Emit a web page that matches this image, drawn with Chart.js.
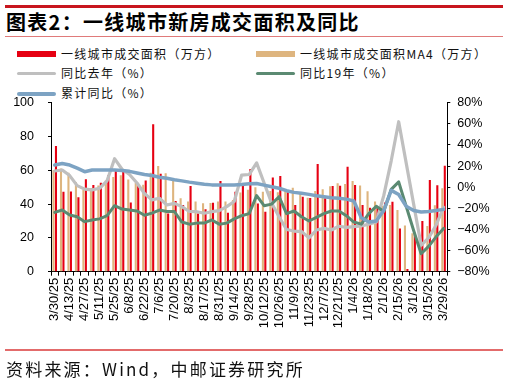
<!DOCTYPE html>
<html>
<head>
<meta charset="utf-8">
<script src="https://cdn.jsdelivr.net/npm/chart.js@4.4.1/dist/chart.umd.min.js"></script>
<style>
    body { margin: 0; width: 509px; height: 385px; background: #fff; position: relative; overflow: hidden; font-family: "Noto Sans CJK SC", sans-serif; color: #000; }
    #chart { position: absolute; left: 0; top: 0; }
    .rule { position: absolute; left: 5px; width: 498px; }
    .title { position: absolute; left: 6px; top: 12px; font-size: 20px; line-height: 20px; font-weight: 700; letter-spacing: 1.3px; white-space: nowrap; }
    .sw { position: absolute; width: 39px; }
    .lg { position: absolute; font-size: 12px; line-height: 12px; letter-spacing: 1.3px; white-space: nowrap; color: #111; }
    .src { position: absolute; left: 6px; top: 360px; font-size: 17px; line-height: 18px; letter-spacing: 2.2px; white-space: nowrap; color: #111; }
</style>
</head>
<body>
<div class="rule" style="top:5px;height:2.5px;background:#c8161e"></div>
<div class="title">图表2：一线城市新房成交面积及同比</div>
<div class="rule" style="top:35.5px;height:1.5px;background:#e07a7a"></div>

<div class="sw" style="left:17px;top:50.5px;height:6px;background:#e60012"></div>
<div class="lg" style="left:61px;top:48px">一线城市成交面积（万方）</div>
<div class="sw" style="left:256px;top:50.5px;height:6px;background:#deb57f"></div>
<div class="lg" style="left:300px;top:48px">一线城市成交面积MA4（万方）</div>
<div class="sw" style="left:17px;top:72px;height:3px;border-radius:2px;background:#bfbfbf"></div>
<div class="lg" style="left:61px;top:67px">同比去年（%）</div>
<div class="sw" style="left:256px;top:72px;height:3px;border-radius:2px;background:#5b8a72"></div>
<div class="lg" style="left:300px;top:67px">同比19年（%）</div>
<div class="sw" style="left:17px;top:92px;height:3.5px;border-radius:2px;background:#7da3c3"></div>
<div class="lg" style="left:61px;top:86.5px">累计同比（%）</div>

<canvas id="chart" width="509" height="385"></canvas>

<div class="rule" style="top:348.5px;height:2px;background:#e36b6b"></div>
<div class="src">资料来源：Wind，中邮证券研究所</div>

<script>
// 周度数据 3/30/25 - 3/29/26
const weeks = ['3/30/25', '4/6/25', '4/13/25', '4/20/25', '4/27/25', '5/4/25', '5/11/25', '5/18/25', '5/25/25',
    '6/1/25', '6/8/25', '6/15/25', '6/22/25', '6/29/25', '7/6/25', '7/13/25', '7/20/25', '7/27/25',
    '8/3/25', '8/10/25', '8/17/25', '8/24/25', '8/31/25', '9/7/25', '9/14/25', '9/21/25', '9/28/25',
    '10/5/25', '10/12/25', '10/19/25', '10/26/25', '11/2/25', '11/9/25', '11/16/25', '11/23/25', '11/30/25',
    '12/7/25', '12/14/25', '12/21/25', '12/28/25', '1/4/26', '1/11/26', '1/18/26', '1/25/26', '2/1/26',
    '2/8/26', '2/15/26', '2/22/26', '3/1/26', '3/8/26', '3/15/26', '3/22/26', '3/29/26'];

// 一线城市成交面积（万方）
const area = [74.4, 47.3, 47.5, 44, 54.7, 51.3, 52.7, 57, 59.6, 59, 41, 51, 54, 87.2, 58, 34.5, 41.8, 39.4,
    50.7, 34.5, 37, 40.8, 53.6, 34.9, 47.3, 51.3, 60.7, 40.4, 35.5, 55.8, 56.6, 47, 39.4, 44.4, 43.6, 63.7,
    43.4, 50.7, 50.9, 62.1, 51.3, 39.4, 37.9, 37.9, 41, 41.4, 25.6, 1.6, 22, 30, 54.2, 51.2, 62.7];

// 一线城市成交面积MA4（万方）
const areaMA4 = [60, 61, 58.5, 53, 48.5, 49.5, 51, 54, 56, 57, 54.5, 52.5, 51.5, 58.5, 62.5, 58.3, 54, 43.4,
    41.5, 41.6, 40.5, 40.7, 41.5, 41.6, 42.5, 46.8, 48.5, 50, 47.3, 47.8, 47, 48, 49.7, 46.3, 43.8, 47.8,
    48.8, 50.5, 52.3, 51.9, 53.7, 51, 47.6, 41.6, 39, 39.5, 36.5, 27.4, 22.7, 19.8, 27, 39.3, 49.4];

// 同比去年（%）
const yoyLastYear = [15.3, 16.3, 11, 1.5, -1.8, -2.5, -1, 6, 27, 17, 12, 4, -6, -12, -10.5, -16.8, -15.3, -18.4,
    -23, -23.2, -24.7, -23.2, -22.2, -18.4, -13.5, 11.5, 12, 23, 4, -15, -28, -40, -41.5, -42, -48, -40.5,
    -39, -40.5, -37, -38, -37.3, -36.7, -35, -33, -8, 25, 62, 23, -16, -55, -48, -36, -19];

// 同比19年（%）
const yoy2019 = [-23.8, -21.6, -26.3, -27.9, -32.6, -31, -30, -27, -17.5, -20.7, -21.6, -22.5, -26.5, -24.5,
    -21.6, -23, -23, -33, -35, -34, -34, -31, -35, -34, -30, -27, -25, -8, -17.5, -16, -9, -25, -22.5, -28,
    -32, -28.5, -25, -22.5, -22.5, -27, -33, -35, -25, -18, -23, -2, 5, -18, -41, -63, -56, -47, -39];

// 累计同比（%）
const yoyCumulative = [21, 22.5, 21, 18, 14.7, 16.3, 16.3, 16.3, 16.3, 15.8, 15, 13.5, 12, 11, 9.5, 8.4, 7, 6,
    4.8, 3.8, 2.8, 2.2, 2, 2, 2, 2.5, 3.3, 3.5, 2, 0.5, -1, -3.3, -4.9, -5.8, -6.8, -8, -9, -9.9, -10.5,
    -11.3, -13, -29, -33, -32, -22, -3, -7, -18, -22, -23.5, -23, -22, -21];

// 坐标轴刻度
const leftAxis = { min: 0, max: 100, step: 10 };
const rightAxis = { min: -80, max: 80, step: 20 };

Chart.defaults.font.family = '"Liberation Sans", Arial, sans-serif';
Chart.defaults.color = '#000';

const axisLine = { display: true, color: '#000', width: 1 };

const lineStyle = (color, width) => ({
    type: 'line',
    yAxisID: 'y1',
    borderColor: color,
    backgroundColor: color,
    borderWidth: width,
    pointRadius: 0,
    tension: 0,
    borderJoinStyle: 'round',
    borderCapStyle: 'round'
});

const ctx = document.getElementById('chart').getContext('2d');

new Chart(ctx, {
    type: 'bar',
    data: {
        labels: weeks,
        datasets: [
            Object.assign(lineStyle('#7da3c3', 3.5), { label: '累计同比（%）', data: yoyCumulative, order: 1 }),
            Object.assign(lineStyle('#5b8a72', 3), { label: '同比19年（%）', data: yoy2019, order: 2 }),
            Object.assign(lineStyle('#bfbfbf', 3.2), { label: '同比去年（%）', data: yoyLastYear, order: 3 }),
            {
                label: '一线城市成交面积MA4（万方）',
                data: areaMA4,
                backgroundColor: '#deb57f',
                yAxisID: 'y',
                order: 4,
                categoryPercentage: 0.66,
                barPercentage: 0.85
            },
            {
                label: '一线城市成交面积（万方）',
                data: area,
                backgroundColor: '#e60012',
                yAxisID: 'y',
                order: 5,
                categoryPercentage: 0.66,
                barPercentage: 0.85
            }
        ]
    },
    options: {
        responsive: false,
        animation: false,
        events: [],
        layout: { padding: { top: 102.7, left: 0, right: 0, bottom: 0 } },
        plugins: {
            legend: { display: false },
            tooltip: { enabled: false }
        },
        scales: {
            x: {
                offset: true,
                border: axisLine,
                grid: { display: true, offset: true, drawOnChartArea: false, drawTicks: true, tickLength: 4, color: '#000' },
                ticks: {
                    autoSkip: false,
                    maxRotation: 90,
                    minRotation: 90,
                    padding: 2,
                    font: { size: 13 },
                    callback: function (value, index) {
                        return index % 2 === 0 ? weeks[index] : '';
                    }
                },
                afterFit: (scale) => { scale.height = 385 - 271.7; }
            },
            y: {
                position: 'left',
                min: leftAxis.min,
                max: leftAxis.max,
                border: axisLine,
                grid: { display: true, drawOnChartArea: false, drawTicks: true, tickLength: 3, color: '#000' },
                ticks: { stepSize: leftAxis.step, padding: 14, font: { size: 12.5 } },
                afterFit: (scale) => { scale.width = 51; }
            },
            y1: {
                position: 'right',
                min: rightAxis.min,
                max: rightAxis.max,
                border: axisLine,
                grid: { display: true, drawOnChartArea: false, drawTicks: true, tickLength: 3, color: '#000' },
                ticks: {
                    stepSize: rightAxis.step,
                    padding: 7,
                    font: { size: 12.5 },
                    callback: (v) => (v < 0 ? '−' + Math.abs(v) : v) + '%'
                },
                afterFit: (scale) => { scale.width = 509 - 447.3; }
            }
        }
    }
});
</script>
</body>
</html>
